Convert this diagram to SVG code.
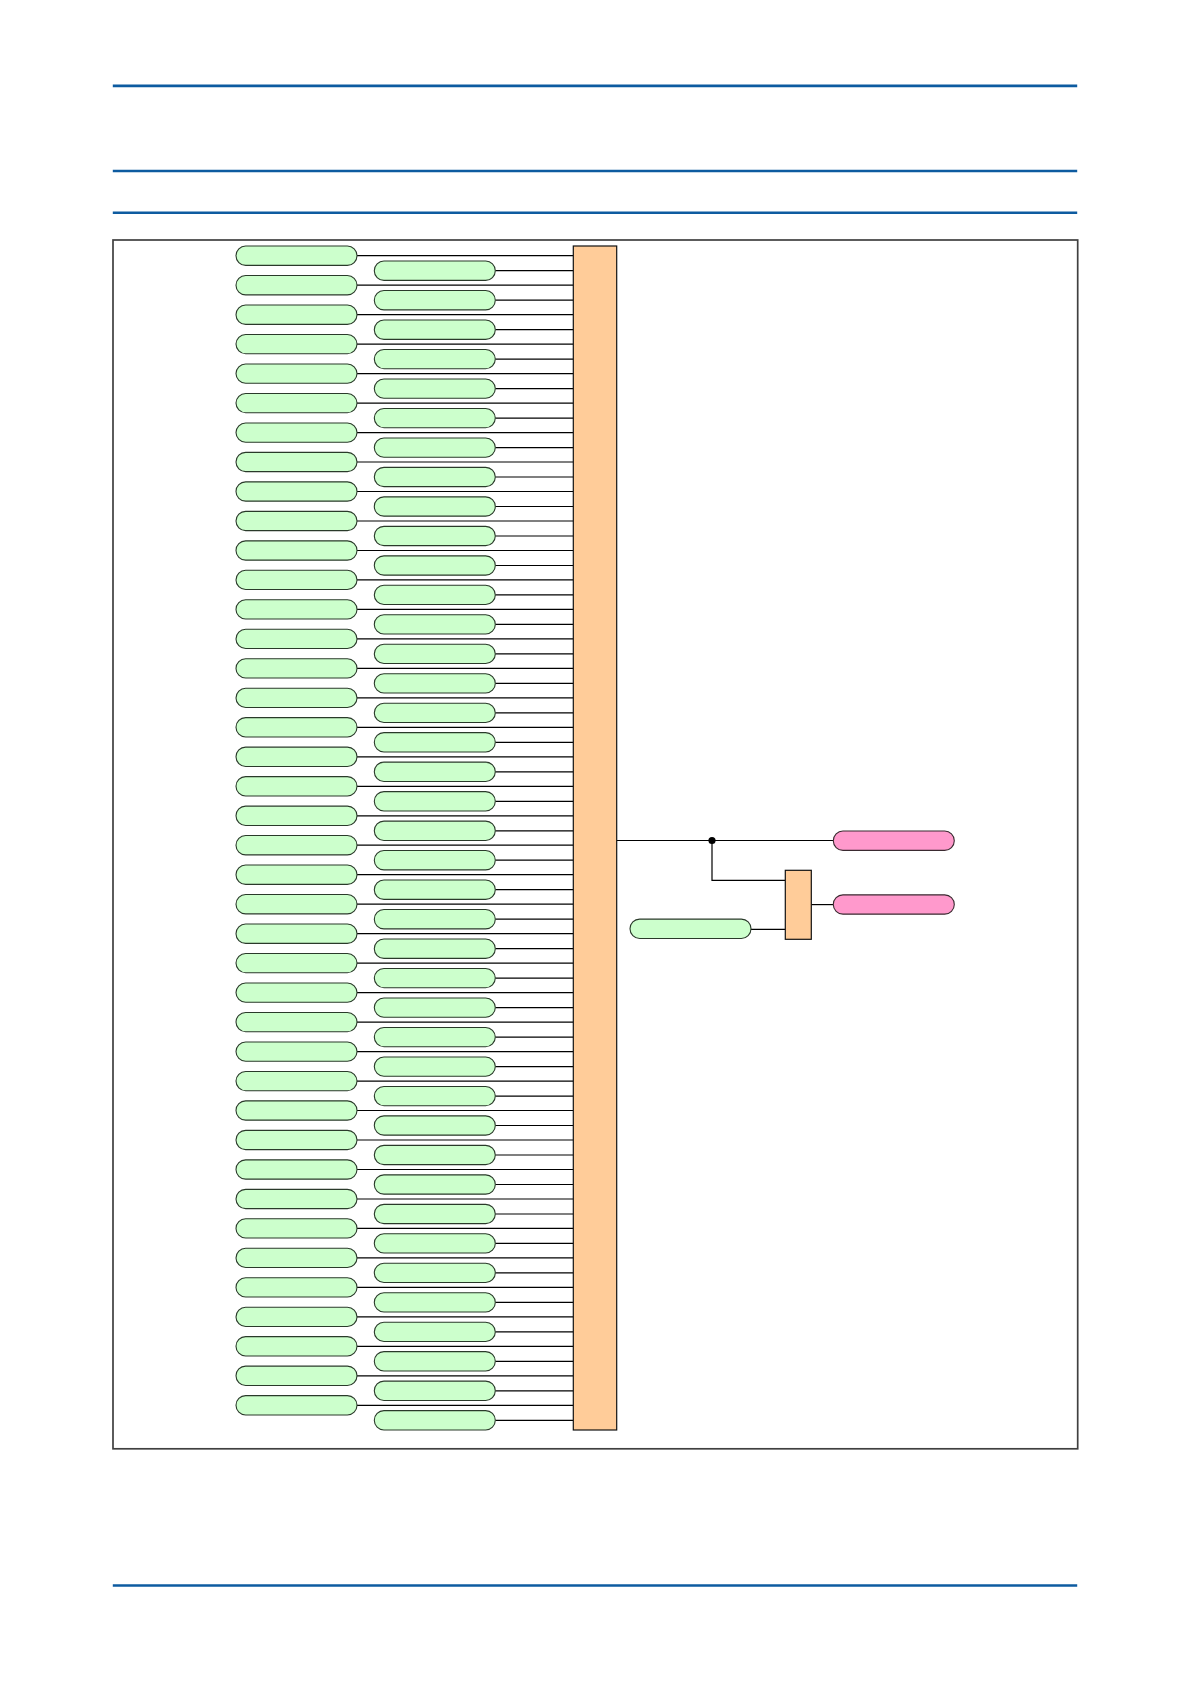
<svg xmlns="http://www.w3.org/2000/svg" width="1191" height="1684" viewBox="0 0 1191 1684">
<style>
.rule{stroke:#0d5ba0;stroke-width:2.6;fill:none}
.frame{fill:#fff;stroke:#404040;stroke-width:1.7}
.pg{fill:#ccffcc;stroke:#2a3a2a;stroke-width:1.1}
.pp{fill:#ff99cc;stroke:#3a2a30;stroke-width:1.1}
.bar{fill:#ffcc99;stroke:#111;stroke-width:1.2}
.c line,.c polyline{stroke:#000;stroke-width:1.2;fill:none}
</style>
<defs>
<rect id="pill" x="0" y="-9.65" width="121" height="19.3" rx="9.65"/>
</defs>
<rect x="0" y="0" width="1191" height="1684" fill="#fff"/>
<line class="rule" x1="112.8" y1="85.9" x2="1077.2" y2="85.9"/>
<line class="rule" x1="112.8" y1="171" x2="1077.2" y2="171"/>
<line class="rule" x1="112.8" y1="212.8" x2="1077.2" y2="212.8"/>
<line class="rule" x1="112.8" y1="1585.5" x2="1077.2" y2="1585.5"/>
<rect class="frame" x="113" y="240" width="964.7" height="1208.8"/>
<g id="connectors" class="c">
<line x1="357" y1="255.7" x2="573.3" y2="255.7"/>
<line x1="357" y1="285.2" x2="573.3" y2="285.2"/>
<line x1="357" y1="314.7" x2="573.3" y2="314.7"/>
<line x1="357" y1="344.1" x2="573.3" y2="344.1"/>
<line x1="357" y1="373.6" x2="573.3" y2="373.6"/>
<line x1="357" y1="403.1" x2="573.3" y2="403.1"/>
<line x1="357" y1="432.6" x2="573.3" y2="432.6"/>
<line x1="357" y1="462.0" x2="573.3" y2="462.0"/>
<line x1="357" y1="491.5" x2="573.3" y2="491.5"/>
<line x1="357" y1="521.0" x2="573.3" y2="521.0"/>
<line x1="357" y1="550.5" x2="573.3" y2="550.5"/>
<line x1="357" y1="579.9" x2="573.3" y2="579.9"/>
<line x1="357" y1="609.4" x2="573.3" y2="609.4"/>
<line x1="357" y1="638.9" x2="573.3" y2="638.9"/>
<line x1="357" y1="668.4" x2="573.3" y2="668.4"/>
<line x1="357" y1="697.9" x2="573.3" y2="697.9"/>
<line x1="357" y1="727.3" x2="573.3" y2="727.3"/>
<line x1="357" y1="756.8" x2="573.3" y2="756.8"/>
<line x1="357" y1="786.3" x2="573.3" y2="786.3"/>
<line x1="357" y1="815.8" x2="573.3" y2="815.8"/>
<line x1="357" y1="845.2" x2="573.3" y2="845.2"/>
<line x1="357" y1="874.7" x2="573.3" y2="874.7"/>
<line x1="357" y1="904.2" x2="573.3" y2="904.2"/>
<line x1="357" y1="933.7" x2="573.3" y2="933.7"/>
<line x1="357" y1="963.1" x2="573.3" y2="963.1"/>
<line x1="357" y1="992.6" x2="573.3" y2="992.6"/>
<line x1="357" y1="1022.1" x2="573.3" y2="1022.1"/>
<line x1="357" y1="1051.6" x2="573.3" y2="1051.6"/>
<line x1="357" y1="1081.1" x2="573.3" y2="1081.1"/>
<line x1="357" y1="1110.5" x2="573.3" y2="1110.5"/>
<line x1="357" y1="1140.0" x2="573.3" y2="1140.0"/>
<line x1="357" y1="1169.5" x2="573.3" y2="1169.5"/>
<line x1="357" y1="1199.0" x2="573.3" y2="1199.0"/>
<line x1="357" y1="1228.4" x2="573.3" y2="1228.4"/>
<line x1="357" y1="1257.9" x2="573.3" y2="1257.9"/>
<line x1="357" y1="1287.4" x2="573.3" y2="1287.4"/>
<line x1="357" y1="1316.9" x2="573.3" y2="1316.9"/>
<line x1="357" y1="1346.3" x2="573.3" y2="1346.3"/>
<line x1="357" y1="1375.8" x2="573.3" y2="1375.8"/>
<line x1="357" y1="1405.3" x2="573.3" y2="1405.3"/>
<line x1="495.3" y1="270.7" x2="573.3" y2="270.7"/>
<line x1="495.3" y1="300.2" x2="573.3" y2="300.2"/>
<line x1="495.3" y1="329.7" x2="573.3" y2="329.7"/>
<line x1="495.3" y1="359.1" x2="573.3" y2="359.1"/>
<line x1="495.3" y1="388.6" x2="573.3" y2="388.6"/>
<line x1="495.3" y1="418.1" x2="573.3" y2="418.1"/>
<line x1="495.3" y1="447.6" x2="573.3" y2="447.6"/>
<line x1="495.3" y1="477.0" x2="573.3" y2="477.0"/>
<line x1="495.3" y1="506.5" x2="573.3" y2="506.5"/>
<line x1="495.3" y1="536.0" x2="573.3" y2="536.0"/>
<line x1="495.3" y1="565.5" x2="573.3" y2="565.5"/>
<line x1="495.3" y1="594.9" x2="573.3" y2="594.9"/>
<line x1="495.3" y1="624.4" x2="573.3" y2="624.4"/>
<line x1="495.3" y1="653.9" x2="573.3" y2="653.9"/>
<line x1="495.3" y1="683.4" x2="573.3" y2="683.4"/>
<line x1="495.3" y1="712.9" x2="573.3" y2="712.9"/>
<line x1="495.3" y1="742.3" x2="573.3" y2="742.3"/>
<line x1="495.3" y1="771.8" x2="573.3" y2="771.8"/>
<line x1="495.3" y1="801.3" x2="573.3" y2="801.3"/>
<line x1="495.3" y1="830.8" x2="573.3" y2="830.8"/>
<line x1="495.3" y1="860.2" x2="573.3" y2="860.2"/>
<line x1="495.3" y1="889.7" x2="573.3" y2="889.7"/>
<line x1="495.3" y1="919.2" x2="573.3" y2="919.2"/>
<line x1="495.3" y1="948.7" x2="573.3" y2="948.7"/>
<line x1="495.3" y1="978.1" x2="573.3" y2="978.1"/>
<line x1="495.3" y1="1007.6" x2="573.3" y2="1007.6"/>
<line x1="495.3" y1="1037.1" x2="573.3" y2="1037.1"/>
<line x1="495.3" y1="1066.6" x2="573.3" y2="1066.6"/>
<line x1="495.3" y1="1096.1" x2="573.3" y2="1096.1"/>
<line x1="495.3" y1="1125.5" x2="573.3" y2="1125.5"/>
<line x1="495.3" y1="1155.0" x2="573.3" y2="1155.0"/>
<line x1="495.3" y1="1184.5" x2="573.3" y2="1184.5"/>
<line x1="495.3" y1="1214.0" x2="573.3" y2="1214.0"/>
<line x1="495.3" y1="1243.4" x2="573.3" y2="1243.4"/>
<line x1="495.3" y1="1272.9" x2="573.3" y2="1272.9"/>
<line x1="495.3" y1="1302.4" x2="573.3" y2="1302.4"/>
<line x1="495.3" y1="1331.9" x2="573.3" y2="1331.9"/>
<line x1="495.3" y1="1361.3" x2="573.3" y2="1361.3"/>
<line x1="495.3" y1="1390.8" x2="573.3" y2="1390.8"/>
<line x1="495.3" y1="1420.3" x2="573.3" y2="1420.3"/>
<line x1="616.7" y1="840.5" x2="833.3" y2="840.5"/>
<polyline points="712,840.5 712,880.3 785.3,880.3"/>
<line x1="750.7" y1="929.3" x2="785.3" y2="929.3"/>
<line x1="811.3" y1="904.6" x2="833.3" y2="904.6"/>
<circle cx="712" cy="840.5" r="3.6" fill="#000"/>
</g>
<g id="inputs-left" class="pg">
<use id="L01" href="#pill" x="236" y="255.7"/>
<use id="L02" href="#pill" x="236" y="285.2"/>
<use id="L03" href="#pill" x="236" y="314.7"/>
<use id="L04" href="#pill" x="236" y="344.1"/>
<use id="L05" href="#pill" x="236" y="373.6"/>
<use id="L06" href="#pill" x="236" y="403.1"/>
<use id="L07" href="#pill" x="236" y="432.6"/>
<use id="L08" href="#pill" x="236" y="462.0"/>
<use id="L09" href="#pill" x="236" y="491.5"/>
<use id="L10" href="#pill" x="236" y="521.0"/>
<use id="L11" href="#pill" x="236" y="550.5"/>
<use id="L12" href="#pill" x="236" y="579.9"/>
<use id="L13" href="#pill" x="236" y="609.4"/>
<use id="L14" href="#pill" x="236" y="638.9"/>
<use id="L15" href="#pill" x="236" y="668.4"/>
<use id="L16" href="#pill" x="236" y="697.9"/>
<use id="L17" href="#pill" x="236" y="727.3"/>
<use id="L18" href="#pill" x="236" y="756.8"/>
<use id="L19" href="#pill" x="236" y="786.3"/>
<use id="L20" href="#pill" x="236" y="815.8"/>
<use id="L21" href="#pill" x="236" y="845.2"/>
<use id="L22" href="#pill" x="236" y="874.7"/>
<use id="L23" href="#pill" x="236" y="904.2"/>
<use id="L24" href="#pill" x="236" y="933.7"/>
<use id="L25" href="#pill" x="236" y="963.1"/>
<use id="L26" href="#pill" x="236" y="992.6"/>
<use id="L27" href="#pill" x="236" y="1022.1"/>
<use id="L28" href="#pill" x="236" y="1051.6"/>
<use id="L29" href="#pill" x="236" y="1081.1"/>
<use id="L30" href="#pill" x="236" y="1110.5"/>
<use id="L31" href="#pill" x="236" y="1140.0"/>
<use id="L32" href="#pill" x="236" y="1169.5"/>
<use id="L33" href="#pill" x="236" y="1199.0"/>
<use id="L34" href="#pill" x="236" y="1228.4"/>
<use id="L35" href="#pill" x="236" y="1257.9"/>
<use id="L36" href="#pill" x="236" y="1287.4"/>
<use id="L37" href="#pill" x="236" y="1316.9"/>
<use id="L38" href="#pill" x="236" y="1346.3"/>
<use id="L39" href="#pill" x="236" y="1375.8"/>
<use id="L40" href="#pill" x="236" y="1405.3"/>
</g>
<g id="inputs-right" class="pg">
<use id="R01" href="#pill" x="374.3" y="270.7"/>
<use id="R02" href="#pill" x="374.3" y="300.2"/>
<use id="R03" href="#pill" x="374.3" y="329.7"/>
<use id="R04" href="#pill" x="374.3" y="359.1"/>
<use id="R05" href="#pill" x="374.3" y="388.6"/>
<use id="R06" href="#pill" x="374.3" y="418.1"/>
<use id="R07" href="#pill" x="374.3" y="447.6"/>
<use id="R08" href="#pill" x="374.3" y="477.0"/>
<use id="R09" href="#pill" x="374.3" y="506.5"/>
<use id="R10" href="#pill" x="374.3" y="536.0"/>
<use id="R11" href="#pill" x="374.3" y="565.5"/>
<use id="R12" href="#pill" x="374.3" y="594.9"/>
<use id="R13" href="#pill" x="374.3" y="624.4"/>
<use id="R14" href="#pill" x="374.3" y="653.9"/>
<use id="R15" href="#pill" x="374.3" y="683.4"/>
<use id="R16" href="#pill" x="374.3" y="712.9"/>
<use id="R17" href="#pill" x="374.3" y="742.3"/>
<use id="R18" href="#pill" x="374.3" y="771.8"/>
<use id="R19" href="#pill" x="374.3" y="801.3"/>
<use id="R20" href="#pill" x="374.3" y="830.8"/>
<use id="R21" href="#pill" x="374.3" y="860.2"/>
<use id="R22" href="#pill" x="374.3" y="889.7"/>
<use id="R23" href="#pill" x="374.3" y="919.2"/>
<use id="R24" href="#pill" x="374.3" y="948.7"/>
<use id="R25" href="#pill" x="374.3" y="978.1"/>
<use id="R26" href="#pill" x="374.3" y="1007.6"/>
<use id="R27" href="#pill" x="374.3" y="1037.1"/>
<use id="R28" href="#pill" x="374.3" y="1066.6"/>
<use id="R29" href="#pill" x="374.3" y="1096.1"/>
<use id="R30" href="#pill" x="374.3" y="1125.5"/>
<use id="R31" href="#pill" x="374.3" y="1155.0"/>
<use id="R32" href="#pill" x="374.3" y="1184.5"/>
<use id="R33" href="#pill" x="374.3" y="1214.0"/>
<use id="R34" href="#pill" x="374.3" y="1243.4"/>
<use id="R35" href="#pill" x="374.3" y="1272.9"/>
<use id="R36" href="#pill" x="374.3" y="1302.4"/>
<use id="R37" href="#pill" x="374.3" y="1331.9"/>
<use id="R38" href="#pill" x="374.3" y="1361.3"/>
<use id="R39" href="#pill" x="374.3" y="1390.8"/>
<use id="R40" href="#pill" x="374.3" y="1420.3"/>
</g>
<g id="or-gate"><rect class="bar" x="573.3" y="246" width="43.4" height="1184"/></g>
<g id="and-gate"><rect class="bar" x="785.3" y="870.3" width="26" height="69"/></g>
<g id="input-extra" class="pg"><use href="#pill" x="630" y="928.8"/></g>
<g id="output-1" class="pp"><use href="#pill" x="833.3" y="840.7"/></g>
<g id="output-2" class="pp"><use href="#pill" x="833.3" y="904.5"/></g>
</svg>
